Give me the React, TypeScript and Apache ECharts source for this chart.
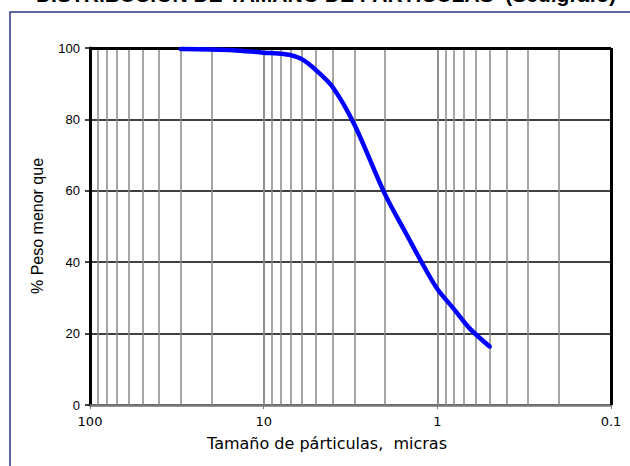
import React, { useEffect, useRef } from "react";
import * as echarts from "echarts";

const sizes = [30, 20, 15, 10, 8, 7, 6, 5, 4, 3, 2, 1.5, 1.2, 1, 0.8, 0.65, 0.5];
const percents = [99.7, 99.6, 99.4, 98.7, 98.4, 98.0, 96.8, 93.8, 89.0, 78.5, 59.0, 47.7, 39.0, 32.5, 26.8, 21.4, 16.4];
const minorGrid = [90, 80, 70, 60, 50, 40, 30, 20, 10, 9, 8, 7, 6, 5, 4, 3, 2, 1, 0.9, 0.8, 0.7, 0.6, 0.5, 0.4, 0.3, 0.2];
const xTicks = [100, 10, 1, 0.1];
const yTicks = [0, 20, 40, 60, 80, 100];

export default function App() {
  const ref = useRef<HTMLDivElement>(null);
  useEffect(() => {
    const chart = echarts.init(ref.current!, null, { renderer: "svg" });
    chart.setOption({
      animation: false,
      backgroundColor: "#fff",
      grid: { left: 90, right: 19, top: 48, bottom: 61, show: false },
      graphic: [
        {
          type: "rect",
          shape: { x: 10, y: 12, width: 640, height: 480 },
          style: { fill: "none", stroke: "#2a3580", lineWidth: 1.5 },
          z: -1,
        },
        {
          type: "text",
          x: 326,
          y: -6,
          style: {
            text: "DISTRIBUCION DE TAMAÑO DE PARTICULAS  (Sedigrafo)",
            font: "bold 21px 'Liberation Sans', Arial, sans-serif",
            fill: "#000",
            align: "center",
            verticalAlign: "middle",
          },
        },
        {
          type: "text",
          x: 327,
          y: 443,
          style: {
            text: "Tamaño de párticulas,  micras",
            font: "16px 'DejaVu Sans', sans-serif",
            fill: "#000",
            align: "center",
            verticalAlign: "middle",
          },
        },
        {
          type: "text",
          x: 37,
          y: 226,
          rotation: Math.PI / 2,
          style: {
            text: "% Peso menor que",
            font: "16px 'Liberation Sans', Arial, sans-serif",
            fill: "#000",
            align: "center",
            verticalAlign: "middle",
          },
        },
      ],
      xAxis: {
        type: "log",
        logBase: 10,
        min: 0.1,
        max: 100,
        inverse: true,
        axisLine: { show: true, onZero: false, lineStyle: { color: "#777", width: 2.5 } },
        axisTick: { show: true, length: 4, lineStyle: { color: "#777" } },
        axisLabel: {
          color: "#000",
          fontSize: 13,
          fontFamily: "'DejaVu Sans', sans-serif",
          margin: 10,
          formatter: (v: number) => (xTicks.some((t) => Math.abs(t - v) < 1e-9) ? String(v) : ""),
        },
        splitLine: { show: true, lineStyle: { color: "#888", width: 1.5 } },
      },
      yAxis: {
        type: "value",
        min: 0,
        max: 100,
        interval: 20,
        axisLine: { show: true, lineStyle: { color: "#000", width: 3 } },
        axisTick: { show: true, length: 5, lineStyle: { color: "#000", width: 1.5 } },
        axisLabel: {
          color: "#000",
          fontSize: 13,
          fontFamily: "'Liberation Sans', Arial, sans-serif",
          margin: 10,
          formatter: (v: number) => (yTicks.includes(v) ? String(v) : ""),
        },
        splitLine: { show: true, lineStyle: { color: "#000", width: 1.5 } },
      },
      series: [
        {
          type: "line",
          data: [],
          silent: true,
          markLine: {
            silent: true,
            symbol: "none",
            label: { show: false },
            lineStyle: { color: "#888", width: 1.5, type: "solid" },
            data: minorGrid.map((v) => ({ xAxis: v })),
          },
        },
        {
          type: "line",
          data: [],
          silent: true,
          markLine: {
            silent: true,
            symbol: "none",
            label: { show: false },
            lineStyle: { color: "#000", width: 3, type: "solid" },
            data: [{ xAxis: 0.1 }, { yAxis: 100 }],
          },
        },
        {
          type: "line",
          data: sizes.map((s, i) => [s, percents[i]]),
          smooth: 0.3,
          showSymbol: false,
          lineStyle: { color: "#0000ff", width: 4.5, cap: "round" },
          z: 5,
        },
      ],
    });
    return () => chart.dispose();
  }, []);
  return (
    <div
      ref={ref}
      style={{ position: "fixed", left: 0, top: 0, width: 630, height: 466 }}
    />
  );
}
